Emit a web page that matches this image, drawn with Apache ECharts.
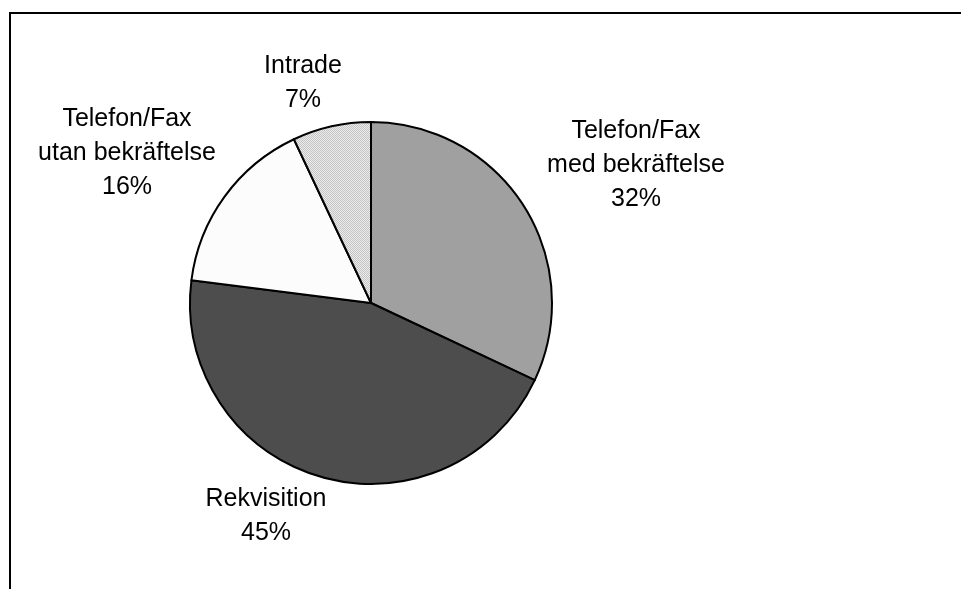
<!DOCTYPE html>
<html>
<head>
<meta charset="utf-8">
<script src="https://cdn.jsdelivr.net/npm/echarts@6/dist/echarts.min.js"></script>
<style>
  html, body { margin: 0; padding: 0; background: #ffffff; }
  #chart { width: 961px; height: 589px; }
</style>
</head>
<body>
<div id="chart"></div>
<script>
// Order-channel shares (percent), drawn clockwise from 12 o'clock
const categories = ['Telefon/Fax\nmed bekräftelse', 'Rekvisition', 'Telefon/Fax\nutan bekräftelse', 'Intrade'];
const shares = [32, 45, 16, 7];

// Fine dotted fill for the small slice
function dotPattern() {
  const c = document.createElement('canvas');
  c.width = 2; c.height = 2;
  const g = c.getContext('2d');
  g.fillStyle = '#ececec'; g.fillRect(0, 0, 2, 2);
  g.fillStyle = '#c4c4c4'; g.fillRect(0, 0, 1, 1); g.fillRect(1, 1, 1, 1);
  return c;
}

const fills = ['#a0a0a0', '#4d4d4d', '#fcfcfc', { image: dotPattern(), repeat: 'repeat' }];

// Label anchor points (centre of each text block)
const labelSpots = [[636, 165], [266, 516], [127, 153], [303, 83]];

const chart = echarts.init(document.getElementById('chart'), null, { renderer: 'canvas' });
chart.setOption({
  animation: false,
  backgroundColor: '#ffffff',
  graphic: [{
    type: 'rect',
    silent: true,
    shape: { x: 10, y: 13, width: 1000, height: 700 },
    style: { fill: 'none', stroke: '#000000', lineWidth: 2 }
  }],
  series: [{
    type: 'pie',
    center: [371, 303],
    radius: 181,
    startAngle: 90,
    clockwise: true,
    avoidLabelOverlap: false,
    silent: true,
    data: categories.map((name, i) => ({
      name: name,
      value: shares[i],
      itemStyle: { color: fills[i] }
    })),
    itemStyle: { borderColor: '#000000', borderWidth: 2 },
    label: {
      show: true,
      formatter: p => p.name + '\n' + p.value + '%',
      fontFamily: 'Liberation Sans, Arial, sans-serif',
      fontSize: 25,
      lineHeight: 34,
      color: '#000000',
      align: 'center'
    },
    labelLine: { show: false },
    labelLayout: p => ({
      x: labelSpots[p.dataIndex][0],
      y: labelSpots[p.dataIndex][1],
      align: 'center',
      verticalAlign: 'middle'
    })
  }]
});
</script>
</body>
</html>
